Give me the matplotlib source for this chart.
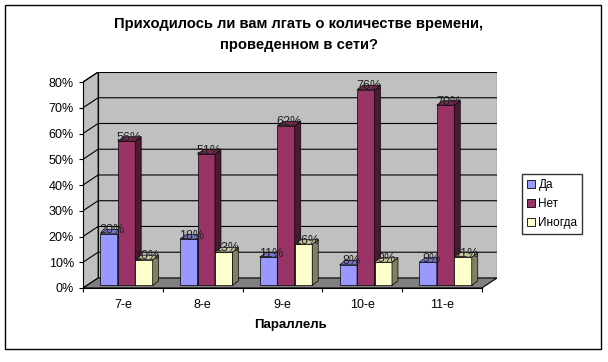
import matplotlib
matplotlib.use("Agg")
import matplotlib.pyplot as plt
from matplotlib.patches import Polygon, Rectangle, Patch
from matplotlib.colors import to_rgb

plt.rcParams['font.family'] = ['Liberation Sans', 'DejaVu Sans']

title = "Приходилось ли вам лгать о количестве времени,\nпроведенном в сети?"
categories = ["7-е", "8-е", "9-е", "10-е", "11-е"]
series_names = ["Да", "Нет", "Иногда"]
da = [20, 18, 11, 8, 9]
net = [56, 51, 62, 76, 70]
inogda = [10, 13, 16, 9, 11]
series = [da, net, inogda]
colors = ["#9999FF", "#993366", "#FFFFCC"]
yticks = [0, 10, 20, 30, 40, 50, 60, 70, 80]

# pseudo-3D geometry (category units / percent units)
DX, DY = 0.19, 3.9      # wall depth
FX, FY = 0.045, 1.0     # bar front face shifted back
SX, SY = 0.075, 1.75    # bar depth
W = 0.219               # bar width

def shade(c, k):
    r, g, b = to_rgb(c)
    return (r * k, g * k, b * k)

fig = plt.figure(figsize=(6.08, 3.62), dpi=100)
ax = fig.add_axes([83 / 608, 74 / 362, 414 / 608, 216 / 362])
n = len(categories)
ax.set_xlim(0, n + DX)
ax.set_ylim(0, 80 + DY)

# walls and floor
ax.add_patch(Polygon([(DX, DY), (n + DX, DY), (n + DX, 80 + DY), (DX, 80 + DY)],
                     closed=True, fc="#C0C0C0", ec="black", lw=0.8, zorder=0))
ax.add_patch(Polygon([(0, 0), (DX, DY), (DX, 80 + DY), (0, 80)],
                     closed=True, fc="#C0C0C0", ec="black", lw=0.8, zorder=0))
ax.add_patch(Polygon([(0, 0), (n, 0), (n + DX, DY), (DX, DY)],
                     closed=True, fc="#808080", ec="black", lw=0.8, zorder=0))
for v in yticks[1:]:
    ax.plot([0, DX, n + DX], [v, v + DY, v + DY], color="black", lw=0.8, zorder=1)

# bars
for i in range(n):
    for j, vals in enumerate(series):
        v = vals[i]
        x0 = i + 0.5 - 1.5 * W + j * W + FX
        y0 = FY
        c = colors[j]
        ax.add_patch(Rectangle((x0, y0), W, v, fc=c, ec="black", lw=0.5, zorder=3))
        ax.add_patch(Polygon([(x0 + W, y0), (x0 + W + SX, y0 + SY),
                              (x0 + W + SX, y0 + v + SY), (x0 + W, y0 + v)],
                             closed=True, fc=shade(c, 0.5), ec="black", lw=0.5, zorder=3))
        ax.add_patch(Polygon([(x0, y0 + v), (x0 + W, y0 + v),
                              (x0 + W + SX, y0 + v + SY), (x0 + SX, y0 + v + SY)],
                             closed=True, fc=shade(c, 0.78), ec="black", lw=0.5, zorder=3))
        ax.text(x0 + W / 2 + SX / 2, y0 + v + SY - 0.4, f"{v}%", ha="center", va="center",
                fontsize=9, color="#222222", zorder=4)

# axes
for s in ["top", "right"]:
    ax.spines[s].set_visible(False)
ax.spines["left"].set_bounds(0, 80)
ax.spines["bottom"].set_bounds(0, n)
ax.set_yticks(yticks)
ax.set_yticklabels([f"{v}%" for v in yticks], fontsize=9)
ax.set_xticks(range(n + 1))
ax.set_xticklabels([])
ax.set_xticks([i + 0.5 for i in range(n)], minor=True)
ax.set_xticklabels(categories, minor=True, fontsize=9)
ax.tick_params(axis="both", which="major", direction="out", length=3, width=0.8)
ax.tick_params(axis="x", which="minor", length=0, pad=8)
ax.patch.set_visible(False)
ax.set_xlabel("Параллель", fontsize=9.5, fontweight="bold", labelpad=6)

fig.text(299 / 608, 1 - 34.5 / 362, title, ha="center", va="center",
         fontsize=10.6, fontweight="bold", linespacing=1.6)

handles = [Patch(fc=c, ec="black", lw=0.6) for c in colors]
fig.legend(handles, series_names, loc="center", bbox_to_anchor=(552 / 608, 1 - 204 / 362),
           fontsize=8.5, frameon=True, fancybox=False, edgecolor="black",
           handlelength=0.7, handleheight=0.7, handletextpad=0.3, borderpad=0.4,
           labelspacing=0.6, borderaxespad=0)

fig.patches.append(Rectangle((5 / 608, 1 - 349 / 362), 596 / 608, 344 / 362,
                             transform=fig.transFigure, fill=False, ec="black", lw=1.0))

fig.savefig("out.png", dpi=100)
